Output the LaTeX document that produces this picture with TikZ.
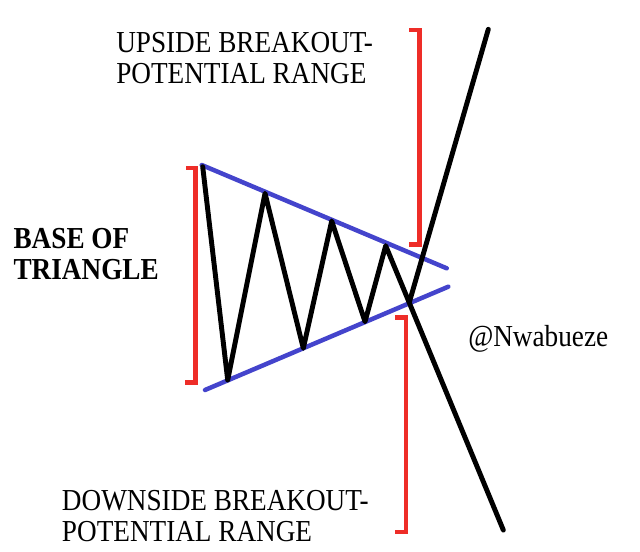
\documentclass[tikz,border=0pt]{standalone}
\usepackage{fontspec}
\setmainfont{Liberation Serif}
\definecolor{trired}{RGB}{238,45,40}
\definecolor{triblue}{RGB}{68,68,204}
\begin{document}
\begin{tikzpicture}[x=0.025cm,y=0.025cm,
  price/.style={line width=3.5pt,black,line cap=round,line join=round},
  trend/.style={line width=3.2pt,triblue,line cap=round},
  bracket/.style={line width=3.0pt,trired,line join=miter},
  lbl/.style={inner sep=0pt,anchor=base west,align=left,transform shape,yscale=1.12,
    font=\fontsize{19.35}{19.5}\selectfont},
  blbl/.style={lbl,font=\fontsize{19.35}{19.5}\selectfont\bfseries}]
\useasboundingbox (0,0) rectangle (640,-552);
% trend lines
\coordinate (u1) at (201.7,-165);
\coordinate (u2) at (446.7,-268.3);
\coordinate (l1) at (205,-390);
\coordinate (l2) at (448.3,-286.7);
\draw[trend] (u1) -- (u2);
\draw[trend] (l1) -- (l2);
% price path
\coordinate (p0) at (202.7,-166.7);
\coordinate (p1) at (227.7,-380);
\coordinate (p2) at (265,-193.3);
\coordinate (p3) at (303.3,-348.3);
\coordinate (p4) at (331.7,-221);
\coordinate (p5) at (365,-321.7);
\coordinate (p6) at (385.7,-245.7);
\coordinate (p7) at (409.5,-301.7);
\coordinate (up) at (488.3,-29.3);
\coordinate (dn) at (503.3,-530);
\draw[price] (p0) -- (p1) -- (p2) -- (p3) -- (p4) -- (p5) -- (p6) -- (dn);
\draw[price] (p7) -- (up);
% brackets
\draw[bracket] (186,-168) -- (195.5,-168) -- (195.5,-382.5) -- (185,-382.5);
\draw[bracket] (409,-30) -- (419.5,-30) -- (419.5,-244.5) -- (409,-244.5);
\draw[bracket] (395,-317.5) -- (406,-317.5) -- (406,-531.7) -- (395,-531.7);
% labels
\node[lbl] (upl) at (116,-83.3) {UPSIDE BREAKOUT-\\POTENTIAL RANGE};
\node[lbl] (dnl) at (61.7,-541.7) {DOWNSIDE BREAKOUT-\\POTENTIAL RANGE};
\node[blbl] (base) at (13.3,-279) {BASE OF\\TRIANGLE};
\node[lbl] (wm) at (468,-346.7) {@Nwabueze};
\end{tikzpicture}
\end{document}
